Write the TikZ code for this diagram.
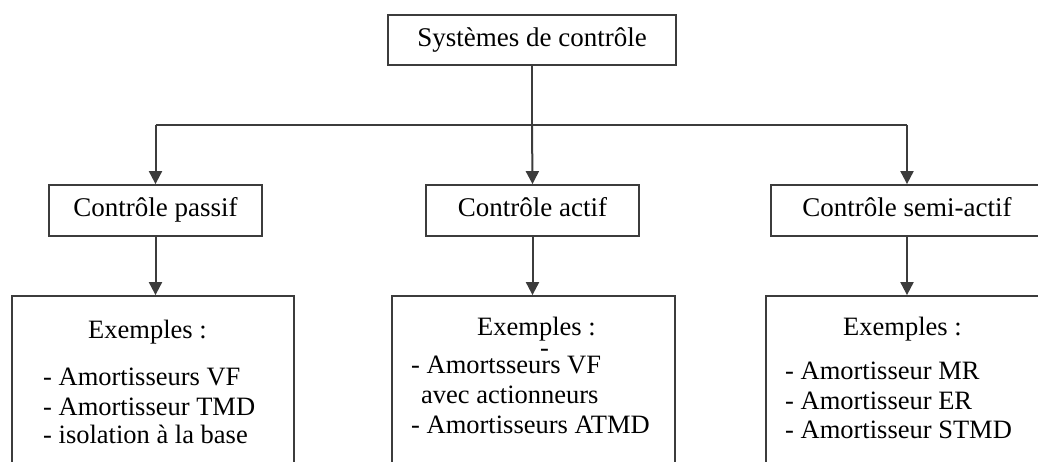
\documentclass[tikz,border=0pt]{standalone}
\usepackage{fontspec}
\setmainfont{Liberation Serif}
\usetikzlibrary{arrows.meta}
\definecolor{linegray}{HTML}{3C3C3C}
\begin{document}
\begin{tikzpicture}[x=1pt,y=-1pt,
  box/.style={draw=linegray, line width=1.8pt, rectangle, inner sep=0pt,
    font=\fontsize{27}{29}\selectfont, text height=19pt, text depth=6pt},
  conn/.style={draw=linegray, line width=2pt},
  arr/.style={conn, -{Triangle[length=13pt,width=13pt]}},
  txt/.style={inner sep=0pt, anchor=base west, font=\fontsize{26.5}{29}\selectfont}]
\useasboundingbox (0,0) rectangle (1038,462);
\clip (0,0) rectangle (1038,462);

% category boxes
\node[box, minimum width=288, minimum height=50] (top) at (532,40) {Systèmes de contrôle};
\node[box, minimum width=213, minimum height=51] (passive) at (155.5,210.5) {Contrôle passif};
\node[box, minimum width=213, minimum height=51] (active) at (532.5,210.5) {Contrôle actif};
\node[box, minimum width=272, minimum height=51] (semi) at (907,210.5) {Contrôle semi-actif};

% example boxes (running past the lower edge)
\node[box, minimum width=282, minimum height=184] (bl) at (153,388) {};
\node[box, minimum width=283, minimum height=184] (bm) at (533.5,388) {};
\node[box, minimum width=282, minimum height=184] (br) at (907,388) {};

% distribution lines
\coordinate (split) at (532,125);
\coordinate (lft) at (passive.north |- split);
\coordinate (rgt) at (semi.north |- split);
\draw[conn] (top.south) -- (split);
\draw[conn] (lft) -- (rgt);
\draw[arr] (lft) -- (passive.north);
\draw[arr] (split) -- (active.north);
\draw[arr] (rgt) -- (semi.north);
\draw[arr] (passive.south) -- (passive.south |- bl.north);
\draw[arr] (active.south) -- (active.south |- bm.north);
\draw[arr] (semi.south) -- (semi.south |- br.north);

% examples: passive control
\node[txt] (p0) at (88,338) {Exemples :};
\node[txt] (p1) at (43,385) {- Amortisseurs VF};
\node[txt] (p2) at (43,415) {- Amortisseur TMD};
\node[txt] (p3) at (43,443) {- isolation à la base};

% examples: active control
\node[txt] (a0) at (477,335) {Exemples :};
\node[txt] (a1) at (540,356) {-};
\node[txt] (a2) at (411,373) {- Amortsseurs VF};
\node[txt] (a3) at (421,403) {avec actionneurs};
\node[txt] (a4) at (411,433) {- Amortisseurs ATMD};

% examples: semi-active control
\node[txt] (s0) at (843,335) {Exemples :};
\node[txt] (s1) at (785,379) {- Amortisseur MR};
\node[txt] (s2) at (785,409) {- Amortisseur ER};
\node[txt] (s3) at (785,438) {- Amortisseur STMD};
\end{tikzpicture}
\end{document}
